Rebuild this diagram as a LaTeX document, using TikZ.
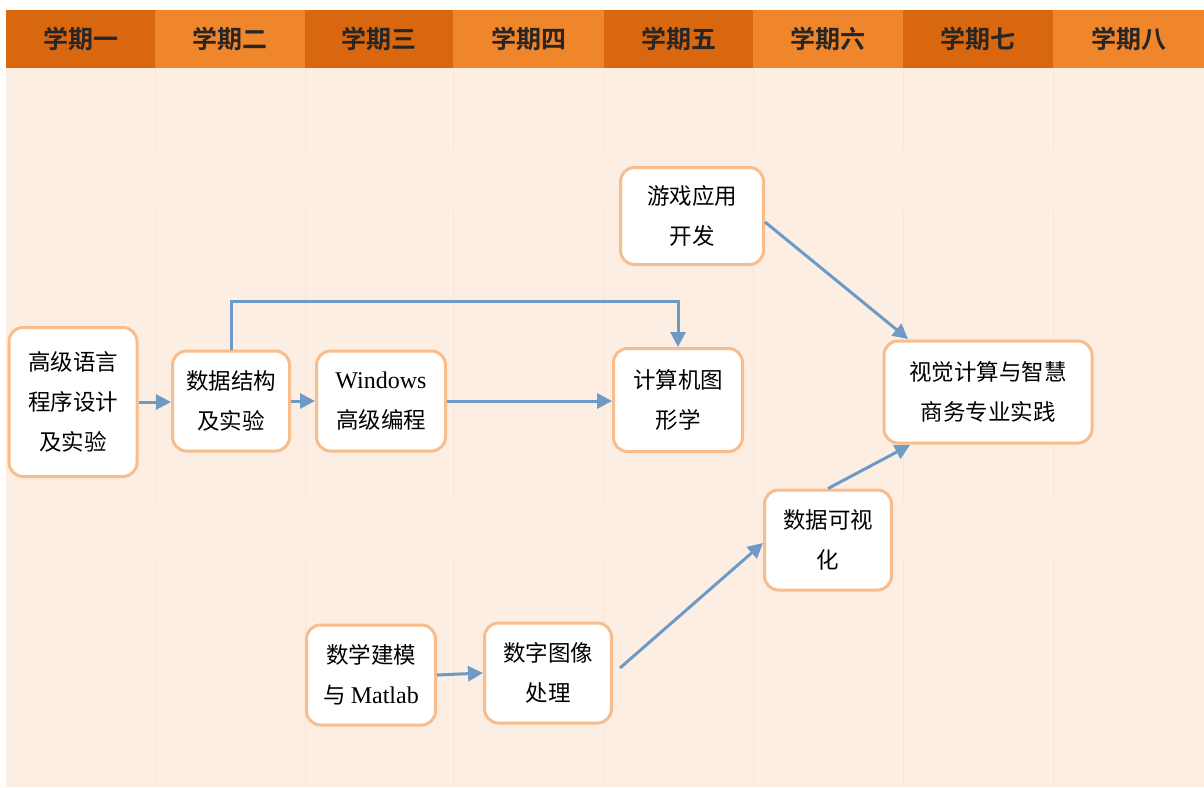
\documentclass[tikz,border=0pt]{standalone}
\usepackage{fontspec}
\setmainfont{Liberation Serif}
\newfontfamily\cjk{Noto Sans CJK SC}
\newfontfamily\cjkb{Noto Sans CJK SC Bold}
\usetikzlibrary{arrows.meta}
\definecolor{hdark}{HTML}{D9670F}
\definecolor{hlight}{HTML}{F0862C}
\definecolor{bodybg}{HTML}{FCEEE3}
\definecolor{sepc}{HTML}{F5E4D7}
\definecolor{boxline}{HTML}{F8BD8C}
\definecolor{arr}{HTML}{6E9BC5}
\tikzset{
  course/.style={draw=boxline, line width=3pt, fill=white, rounded corners=14pt,
    inner sep=0pt, align=center, font=\fontsize{22.5}{40}\selectfont\cjk},
  link/.style={draw=arr, line width=3pt, -{Triangle[length=15pt,width=15pt]}},
  hdr/.style={font=\fontsize{25}{28}\selectfont\cjkb, text=black!85},
  latin/.style={}
}
\newcommand{\lat}[1]{{\fontsize{24}{40}\selectfont\rmfamily #1}}
\begin{document}
\begin{tikzpicture}[x=1pt,y=-1pt]
\useasboundingbox (0,0) rectangle (1204,787);
\fill[white] (0,0) rectangle (1204,787);
\fill[bodybg] (6,68) rectangle (1204,787);
% header
\foreach \i/\xa/\xb/\t in {1/6/155/学期一,2/155/305/学期二,3/305/453/学期三,4/453/604/学期四,5/604/753/学期五,6/753/903/学期六,7/903/1053/学期七,8/1053/1204/学期八}{
  \ifodd\i \fill[hdark] (\xa,10) rectangle (\xb,68); \else \fill[hlight] (\xa,10) rectangle (\xb,68); \fi
  \node[hdr] (h\i) at ({(\xa+\xb)/2},39) {\t};
}
% faint column separators
\foreach \x in {155,305,453,604,753,903,1053}{
  \draw[sepc, line width=1pt] (\x,70) -- (\x,150);
  \draw[sepc, line width=1pt] (\x,210) -- (\x,500);
  \draw[sepc, line width=1pt] (\x,560) -- (\x,787);
}
% nodes
\node[course, minimum width=128pt, minimum height=149pt] (n1) at (73,402) {高级语言\\程序设计\\及实验};
\node[course, minimum width=117pt, minimum height=100pt] (n2) at (231,401) {数据结构\\及实验};
\node[course, minimum width=129pt, minimum height=100pt] (n3) at (381,401) {\lat{Windows}\\高级编程};
\node[course, minimum width=129pt, minimum height=103pt] (n4) at (678,400) {计算机图\\形学};
\node[course, minimum width=143pt, minimum height=97pt] (n5) at (692,216) {游戏应用\\开发};
\node[course, minimum width=208pt, minimum height=102pt] (n6) at (988,392) {视觉计算与智慧\\商务专业实践};
\node[course, minimum width=127pt, minimum height=100pt] (n7) at (828,540) {数据可视\\化};
\node[course, minimum width=129pt, minimum height=100pt] (n8) at (371,675) {数学建模\\与 \lat{Matlab}};
\node[course, minimum width=127pt, minimum height=100pt] (n9) at (548,673) {数字图像\\处理};
% connectors
\draw[link] (n1.east |- 0,402) -- (n2.west |- 0,402);
\draw[link] (n2.east |- 0,401) -- (n3.west |- 0,401);
\draw[link] (n3.east |- 0,401) -- (n4.west |- 0,401);
\draw[link] (n2.north) -- (231,301) -- (678,301) -- (n4.north);
\draw[link] (n5.east |- 0,222) -- (908,339);
\draw[link] (n7.north) -- (910,445);
\draw[link] (n8.east |- 0,675) -- (n9.west |- 0,673);
\draw[link] (620,668) -- (763,543);
\end{tikzpicture}
\end{document}
